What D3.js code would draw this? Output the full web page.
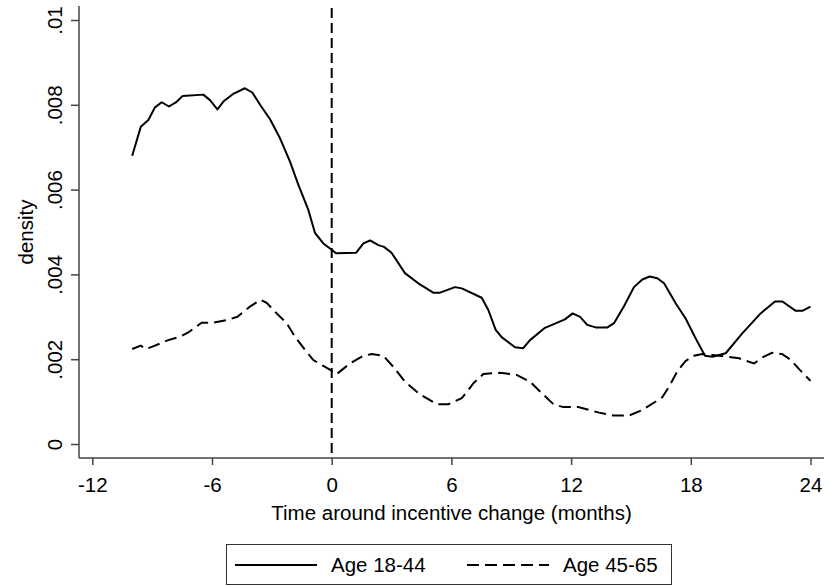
<!DOCTYPE html>
<html>
<head>
<meta charset="utf-8">
<script src="https://cdn.jsdelivr.net/npm/d3@7"></script>
<style>
  body { margin: 0; background: #ffffff; }
</style>
</head>
<body>
<div class="parentDensity"></div>
<script>
// months around the change, age 18-44
let youngMonths = [-10, -9.57, -9.19, -8.86, -8.52, -8.16, -7.77, -7.47, -6.44, -6.1, -5.73, -5.4, -4.96, -4.35, -3.98, -3.59, -3.09, -2.59, -2.09, -1.67, -1.17, -0.84, -0.42, 0, 0.22, 1.22, 1.59, 1.92, 2.34, 2.62, 3.0, 3.67, 4.34, 5.09, 5.43, 6.18, 6.52, 7.52, 7.85, 8.22, 8.52, 9.19, 9.6, 9.94, 10.69, 11.69, 12.08, 12.45, 12.81, 13.23, 13.82, 14.15, 14.65, 15.15, 15.57, 15.94, 16.32, 16.66, 17.24, 17.74, 18.21, 18.71, 19.08, 19.75, 20.58, 21.5, 22.22, 22.59, 23.26, 23.59, 24];
let youngDensity = [0.0068, 0.00748, 0.00764, 0.00794, 0.00806, 0.00796, 0.00807, 0.00821, 0.00824, 0.00811, 0.00789, 0.00809, 0.00825, 0.00839, 0.00829, 0.008, 0.00766, 0.00721, 0.00666, 0.00611, 0.00552, 0.00498, 0.00473, 0.00458, 0.0045, 0.00451, 0.00473, 0.0048, 0.00469, 0.00465, 0.00451, 0.00403, 0.00379, 0.00357, 0.00357, 0.0037, 0.00367, 0.00345, 0.00316, 0.00269, 0.00252, 0.00228, 0.00226, 0.00245, 0.00274, 0.00294, 0.00308, 0.003, 0.00281, 0.00275, 0.00275, 0.00285, 0.00325, 0.0037, 0.00388, 0.00395, 0.00391, 0.00379, 0.00332, 0.00296, 0.00252, 0.00208, 0.00206, 0.00214, 0.00261, 0.00308, 0.00336, 0.00336, 0.00314, 0.00314, 0.00324];

// months around the change, age 45-65
let oldMonths = [-10, -9.57, -9.31, -9.02, -8.19, -7.6, -7.19, -6.52, -5.93, -5.26, -4.73, -4.1, -3.56, -3.26, -2.76, -2.26, -1.84, -1.34, -0.92, -0.42, -0.05, 0.25, 0.92, 1.59, 2.0, 2.59, 3.09, 3.67, 4.43, 5.26, 5.85, 6.52, 7.1, 7.6, 8.44, 9.27, 9.94, 10.53, 11.11, 11.61, 12.36, 13.4, 14.15, 14.9, 15.57, 16.57, 16.91, 17.32, 17.74, 18.16, 18.58, 19.08, 19.75, 20.42, 21.17, 21.58, 22.07, 22.59, 23.02, 23.44, 24];
let oldDensity = [0.00224, 0.00232, 0.00224, 0.00229, 0.00245, 0.00253, 0.00263, 0.00286, 0.00286, 0.00292, 0.003, 0.00324, 0.0034, 0.00333, 0.00308, 0.00285, 0.00253, 0.00222, 0.00198, 0.00184, 0.00174, 0.00165, 0.0019, 0.00208, 0.00212, 0.00208, 0.00182, 0.00147, 0.00117, 0.00094, 0.00094, 0.00108, 0.00143, 0.00165, 0.00168, 0.00163, 0.00147, 0.0012, 0.00094, 0.00087, 0.00087, 0.00074, 0.00067, 0.00067, 0.0008, 0.0011, 0.00135, 0.00171, 0.00196, 0.00208, 0.00212, 0.0021, 0.00206, 0.00202, 0.0019, 0.00204, 0.00215, 0.00212, 0.00198, 0.00176, 0.00149];

// axis ticks and labels
let xTicks = [-12, -6, 0, 6, 12, 18, 24];
let xTickLabels = ["-12", "-6", "0", "6", "12", "18", "24"];
let yTicks = [0, 0.002, 0.004, 0.006, 0.008, 0.01];
let yTickLabels = ["0", ".002", ".004", ".006", ".008", ".01"];
let seriesNames = ["Age 18-44", "Age 45-65"];
let changeMonth = [0];

// Exposed variables
let attrs = {
  width: 829,
  height: 586,
  font: "'Liberation Sans', Arial, Helvetica, sans-serif",
  fontSize: 20.5,
  axisColor: "#444444",
  lineColor: "#000000",
  dash: "12,6", // dash for age 45-65
  refDash: "10,5", // dash for the vertical line
};

// x and y scales
let x = d3.scaleLinear().domain([-12, 24]).range([92.3, 810.5]);
let y = d3.scaleLinear().domain([0, 0.01]).range([444, 20]);

// plot region edges
let plot = { left: 79, right: 824, top: 6, bottom: 458 };

let svg = d3
  .select(".parentDensity")
  .append("svg")
  .attr("width", attrs.width)
  .attr("height", attrs.height)
  .style("font-family", attrs.font);

// x axis
let xAxis = svg
  .append("g")
  .attr("transform", "translate(0," + plot.bottom + ")")
  .call(d3.axisBottom(x).tickValues(xTicks).tickSize(7).tickPadding(12).tickFormat((d, i) => xTickLabels[i]));
xAxis.select(".domain").remove();
xAxis.selectAll(".tick line").attr("stroke", attrs.axisColor).attr("stroke-width", 1.5);
xAxis
  .selectAll(".tick text")
  .attr("fill", "#000")
  .attr("font-size", attrs.fontSize)
  .attr("font-family", attrs.font);
xAxis
  .append("line")
  .attr("x1", plot.left)
  .attr("x2", plot.right)
  .attr("stroke", attrs.axisColor)
  .attr("stroke-width", 1.5);

// y axis
let yAxis = svg
  .append("g")
  .attr("transform", "translate(" + plot.left + ",0)")
  .call(d3.axisLeft(y).tickValues(yTicks).tickSize(8).tickFormat((d, i) => yTickLabels[i]));
yAxis.select(".domain").remove();
yAxis.selectAll(".tick line").attr("stroke", attrs.axisColor).attr("stroke-width", 1.5);
yAxis
  .selectAll(".tick text")
  .attr("fill", "#000")
  .attr("font-size", attrs.fontSize)
  .attr("font-family", attrs.font)
  .attr("x", null)
  .attr("dy", null)
  .attr("text-anchor", "middle")
  .attr("transform", "translate(-17,0) rotate(-90)");
yAxis
  .append("line")
  .attr("y1", plot.top)
  .attr("y2", plot.bottom)
  .attr("stroke", attrs.axisColor)
  .attr("stroke-width", 1.5);

// axis titles
svg
  .append("text")
  .attr("x", (plot.left + plot.right) / 2)
  .attr("y", 520)
  .attr("text-anchor", "middle")
  .attr("font-size", attrs.fontSize)
  .text("Time around incentive change (months)");

svg
  .append("text")
  .attr("transform", "translate(33," + (y(0) + y(0.01)) / 2 + ") rotate(-90)")
  .attr("text-anchor", "middle")
  .attr("font-size", attrs.fontSize)
  .text("density");

// vertical line at the change
svg
  .selectAll(".changeLine")
  .data(changeMonth)
  .enter()
  .append("line")
  .attr("class", "changeLine")
  .attr("x1", (d) => x(d))
  .attr("x2", (d) => x(d))
  .attr("y1", plot.top + 2)
  .attr("y2", plot.bottom)
  .attr("stroke", attrs.lineColor)
  .attr("stroke-width", 2)
  .attr("stroke-dasharray", attrs.refDash);

// density lines
let line = d3
  .line()
  .x((d) => x(d[0]))
  .y((d) => y(d[1]));

svg
  .append("path")
  .datum(d3.zip(youngMonths, youngDensity))
  .attr("d", line)
  .attr("fill", "none")
  .attr("stroke", attrs.lineColor)
  .attr("stroke-width", 2)
  .attr("stroke-linejoin", "round");

svg
  .append("path")
  .datum(d3.zip(oldMonths, oldDensity))
  .attr("d", line)
  .attr("fill", "none")
  .attr("stroke", attrs.lineColor)
  .attr("stroke-width", 2)
  .attr("stroke-dasharray", attrs.dash);

// legend
let legend = svg.append("g");
legend
  .append("rect")
  .attr("x", 226.5)
  .attr("y", 544.5)
  .attr("width", 445)
  .attr("height", 40)
  .attr("fill", "#fff")
  .attr("stroke", "#333")
  .attr("stroke-width", 1);

let legendItems = [
  { x: 235, dash: null },
  { x: 467, dash: attrs.dash },
];
legendItems.forEach((item, i) => {
  legend
    .append("line")
    .attr("x1", item.x)
    .attr("x2", item.x + 82)
    .attr("y1", 565)
    .attr("y2", 565)
    .attr("stroke", attrs.lineColor)
    .attr("stroke-width", 2)
    .attr("stroke-dasharray", item.dash);
  legend
    .append("text")
    .attr("x", item.x + 96)
    .attr("y", 572)
    .attr("font-size", attrs.fontSize)
    .text(seriesNames[i]);
});
</script>
</body>
</html>
